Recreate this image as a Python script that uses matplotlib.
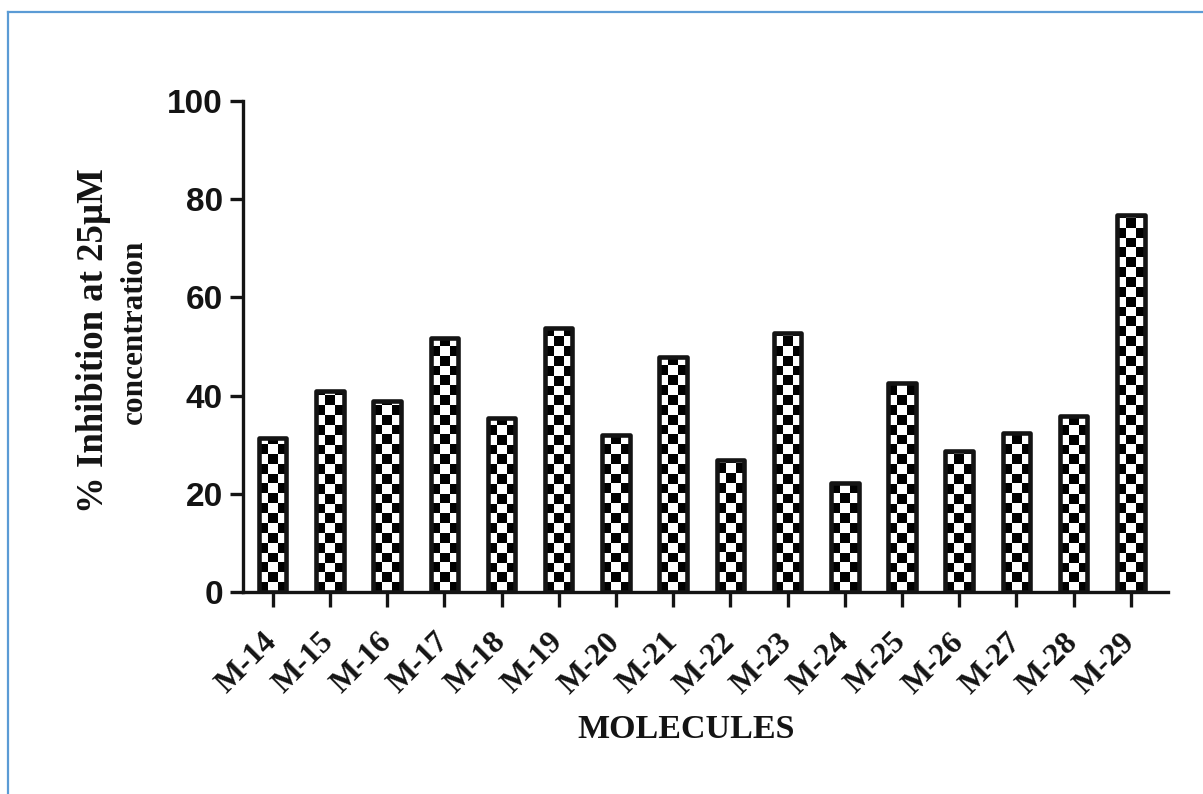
import numpy as np
import matplotlib
matplotlib.use("Agg")
import matplotlib.pyplot as plt
from matplotlib.lines import Line2D

molecules = ['M-14', 'M-15', 'M-16', 'M-17', 'M-18', 'M-19', 'M-20', 'M-21',
             'M-22', 'M-23', 'M-24', 'M-25', 'M-26', 'M-27', 'M-28', 'M-29']
inhibition = [31.4, 40.9, 39.0, 51.8, 35.4, 53.7, 32.0, 47.9,
              26.9, 52.8, 22.1, 42.5, 28.7, 32.4, 35.8, 76.8]
yticks = [0, 20, 40, 60, 80, 100]

W, H = 1203, 794
fig = plt.figure(figsize=(W / 100, H / 100), dpi=100)
fig.patch.set_facecolor('white')

left, right, top, bottom = 243, 1168, 101, 592
ax = fig.add_axes([left / W, 1 - bottom / H, (right - left) / W, (bottom - top) / H])
ax.set_facecolor('none')

x = np.arange(len(molecules))
bw = 0.48
bars = ax.bar(x, inhibition, width=bw, facecolor='none', edgecolor='#141414',
              linewidth=3.3, zorder=3, joinstyle='round')

# checkerboard fill, clipped to each bar
cw, ch = 0.175, 2.0
for xi, val, b in zip(x, inhibition, bars):
    ny = int(np.ceil(val / ch)) + 1
    ii, jj = np.mgrid[0:ny, 0:3]
    pat = ((ii + jj) % 2).astype(float)
    im = ax.imshow(pat, cmap='gray', vmin=0.08, vmax=1.0, origin='lower',
                   extent=[xi - 1.5 * cw, xi + 1.5 * cw, 0, ny * ch],
                   interpolation='nearest', aspect='auto', zorder=2)
    im.set_clip_path(b)

ax.set_xlim(-0.52, len(molecules) - 1 + 0.65)
ax.set_ylim(0, 100)

for s in ['top', 'right']:
    ax.spines[s].set_visible(False)
for s in ['left', 'bottom']:
    ax.spines[s].set_linewidth(2.4)
    ax.spines[s].set_color('#141414')

ax.set_yticks(yticks)
ax.set_yticklabels([str(t) for t in yticks], fontfamily='Liberation Sans',
                   fontweight='bold', fontsize=24, color='#141414')
ax.tick_params(axis='y', length=9.5, width=2.4, pad=5, color='#141414')

ax.set_xticks(x)
ax.set_xticklabels(molecules, rotation=45, ha='right', va='center',
                   rotation_mode='anchor', fontfamily='Liberation Serif',
                   fontweight='bold', fontsize=23, color='#141414')
ax.tick_params(axis='x', length=11, width=2.4, pad=22, color='#141414')

# y label, two lines drawn separately (first line is wider in the reference)
fig.text(103 / W, 1 - 341 / H, '% Inhibition at 25\u00b5M', rotation=90,
         rotation_mode='anchor', ha='center', va='baseline',
         fontfamily='Liberation Serif', fontweight='bold', fontsize=26.5,
         color='#141414')
fig.text(142 / W, 1 - 332 / H, 'concentration', rotation=90,
         rotation_mode='anchor', ha='center', va='baseline',
         fontfamily='Liberation Serif', fontweight='bold', fontsize=22.5,
         color='#141414')
fig.text(686 / W, 1 - 738 / H, 'MOLECULES', ha='center', va='baseline',
         fontfamily='Liberation Serif', fontweight='bold', fontsize=24.5,
         color='#141414')

# light blue page frame (top and left edges visible)
fx, fy = 8 / W, 1 - 11.7 / H
fig.add_artist(Line2D([fx, fx], [0, fy], transform=fig.transFigure,
                      color='#5b9bd5', lw=1.6))
fig.add_artist(Line2D([fx, 1], [fy, fy], transform=fig.transFigure,
                      color='#5b9bd5', lw=1.6))

fig.savefig('out.png', dpi=100)
